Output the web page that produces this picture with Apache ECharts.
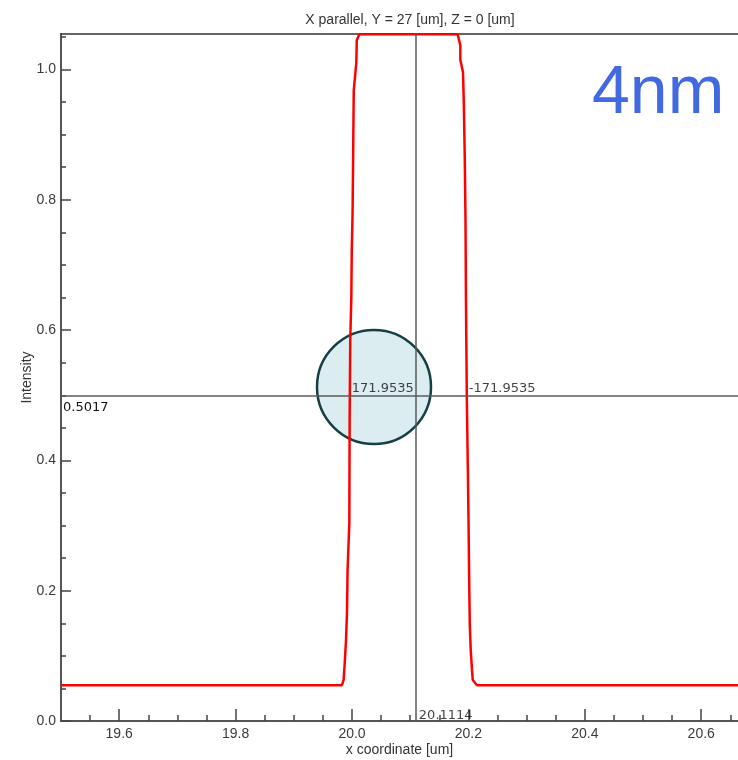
<!DOCTYPE html>
<html>
<head>
<meta charset="utf-8">
<script src="https://cdn.jsdelivr.net/npm/echarts@6/dist/echarts.min.js"></script>
<style>
    html, body {margin: 0; padding: 0; background: #fff;}
    #profile_chart {width: 738px; height: 760px;}
</style>
</head>
<body>
<div id="profile_chart"></div>
<script>
// profile along x
const xCoord = [19.5, 19.9828, 19.9856, 19.9873, 19.9897, 19.9914, 19.9924, 19.9954, 19.9959, 19.997,
    19.9988, 19.9996, 20.001, 20.0022, 20.003, 20.0074, 20.0082, 20.0125, 20.1815, 20.1861,
    20.1861, 20.1907, 20.192, 20.1938, 20.195, 20.1958, 20.1973, 20.199, 20.2004, 20.2015,
    20.2024, 20.204, 20.2062, 20.2075, 20.2148, 20.75];
const intensity = [0.055, 0.055, 0.063, 0.086, 0.124, 0.167, 0.232, 0.304, 0.462, 0.585,
    0.649, 0.723, 0.781, 0.892, 0.968, 1.010, 1.045, 1.054, 1.054, 1.037,
    1.015, 0.996, 0.953, 0.861, 0.769, 0.646, 0.493, 0.388, 0.293, 0.201,
    0.147, 0.109, 0.078, 0.063, 0.055, 0.055];

const xMajorTicks = [19.6, 19.8, 20.0, 20.2, 20.4, 20.6];
const xMinorTicks = [19.55, 19.65, 19.7, 19.75, 19.85, 19.9, 19.95, 20.05, 20.1, 20.15,
    20.25, 20.3, 20.35, 20.45, 20.5, 20.55, 20.65];
const yMajorTicks = [0, 0.2, 0.4, 0.6, 0.8, 1.0];
const yMinorTicks = [0.05, 0.1, 0.15, 0.25, 0.3, 0.35, 0.45, 0.5, 0.55, 0.65, 0.7, 0.75,
    0.85, 0.9, 0.95, 1.05];

// cursor
const cursorX = 20.1114;
const cursorY = 0.5017;
const noteX = [19.9962, 20.1973, 20.1114];
const noteY = [0.5017, 0.5017, 0];
const noteText = ['171.9535', '-171.9535', '20.1114'];
const circleCenter = [20.0378, 0.5127];

const xMin = 19.5, xMax = 20.6632;
const yMin = 0, yMax = 1.0545;

let chart = echarts.init(document.getElementById('profile_chart'));

let axisFont = {fontFamily: 'Liberation Sans, Arial, sans-serif', fontSize: 14, color: '#3a3a3a'};
let noteFont = {fontFamily: 'DejaVu Sans, Verdana, sans-serif', fontSize: 13, color: '#111'};

let option = {
    animation: false,
    title: {
        text: 'X parallel, Y = 27 [um], Z = 0 [um]',
        left: 405, top: 8, textAlign: 'center',
        textStyle: {fontFamily: 'Liberation Sans, Arial, sans-serif', fontSize: 14, fontWeight: 'normal', color: '#333'}
    },
    grid: {left: 61, right: 0, top: 34, bottom: 39, outerBoundsMode: 'none'},
    xAxis: [
        {
            type: 'value', min: xMin, max: xMax, position: 'bottom',
            name: 'x coordinate [um]', nameLocation: 'middle', nameGap: 22, nameMoveOverlap: false,
            nameTextStyle: {fontFamily: 'Liberation Sans, Arial, sans-serif', fontSize: 14, color: '#333'},
            axisLine: {lineStyle: {color: '#555', width: 2}},
            axisTick: {inside: true, length: 12, customValues: xMajorTicks, lineStyle: {color: '#444', width: 1.5}},
            axisLabel: Object.assign({customValues: xMajorTicks, margin: 6, formatter: v => v.toFixed(1)}, axisFont),
            splitLine: {show: false}
        },
        {
            type: 'value', min: xMin, max: xMax, position: 'bottom',
            axisLine: {show: false},
            axisTick: {inside: true, length: 6, customValues: xMinorTicks, lineStyle: {color: '#444', width: 1.5}},
            axisLabel: {show: false},
            splitLine: {show: false}
        },
        {
            type: 'value', min: xMin, max: xMax, position: 'top',
            axisLine: {lineStyle: {color: '#333', width: 1.5}},
            axisTick: {show: false},
            axisLabel: {show: false},
            splitLine: {show: false}
        }
    ],
    yAxis: [
        {
            type: 'value', min: yMin, max: yMax, position: 'left',
            name: 'Intensity', nameLocation: 'middle', nameGap: 27, nameMoveOverlap: false,
            nameTextStyle: {fontFamily: 'Liberation Sans, Arial, sans-serif', fontSize: 14, color: '#333'},
            axisLine: {lineStyle: {color: '#555', width: 2}},
            axisTick: {inside: true, length: 10, customValues: yMajorTicks, lineStyle: {color: '#444', width: 1.5}},
            axisLabel: Object.assign({customValues: yMajorTicks, margin: 5, formatter: v => v.toFixed(1)}, axisFont),
            splitLine: {show: false}
        },
        {
            type: 'value', min: yMin, max: yMax, position: 'left',
            axisLine: {show: false},
            axisTick: {inside: true, length: 5, customValues: yMinorTicks, lineStyle: {color: '#444', width: 1.5}},
            axisLabel: {show: false},
            splitLine: {show: false}
        }
    ],
    series: [
        {
            name: 'profile',
            type: 'line',
            clip: false,
            showSymbol: false,
            data: xCoord.map((x, i) => [x, intensity[i]]),
            lineStyle: {color: '#ff0000', width: 2.5},
            markLine: {
                silent: true,
                symbol: ['none', 'none'],
                lineStyle: {color: '#5a5a5a', width: 1.5, type: 'solid'},
                data: [
                    {yAxis: cursorY, label: Object.assign({show: true, position: 'insideStartBottom', distance: [2, 6], formatter: cursorY.toFixed(4)}, noteFont)},
                    {xAxis: cursorX, label: {show: false}}
                ]
            },
            z: 3
        },
        {
            name: 'notes',
            type: 'scatter',
            clip: false,
            symbolSize: 0,
            silent: true,
            data: noteX.map((x, i) => [x, noteY[i], noteText[i]]),
            label: Object.assign({
                show: true, position: [2, 1], align: 'left', verticalAlign: 'bottom',
                formatter: p => p.value[2]
            }, noteFont),
            z: 4
        }
    ]
};

chart.setOption(option);

// highlight circle (under the curve) and the "4nm" tag
let c = chart.convertToPixel({xAxisIndex: 0, yAxisIndex: 0}, circleCenter);
chart.setOption({
    graphic: [
        {
            type: 'circle', shape: {cx: c[0], cy: c[1], r: 57}, z: 1,
            style: {fill: '#dcedf2', stroke: '#163f44', lineWidth: 2.5}
        },
        {
            type: 'text', left: 592, top: 60, z: 10,
            style: {text: '4nm', fontFamily: 'Liberation Sans, Arial, sans-serif', fontSize: 68, fill: '#4169e1'}
        }
    ]
});
</script>
</body>
</html>
